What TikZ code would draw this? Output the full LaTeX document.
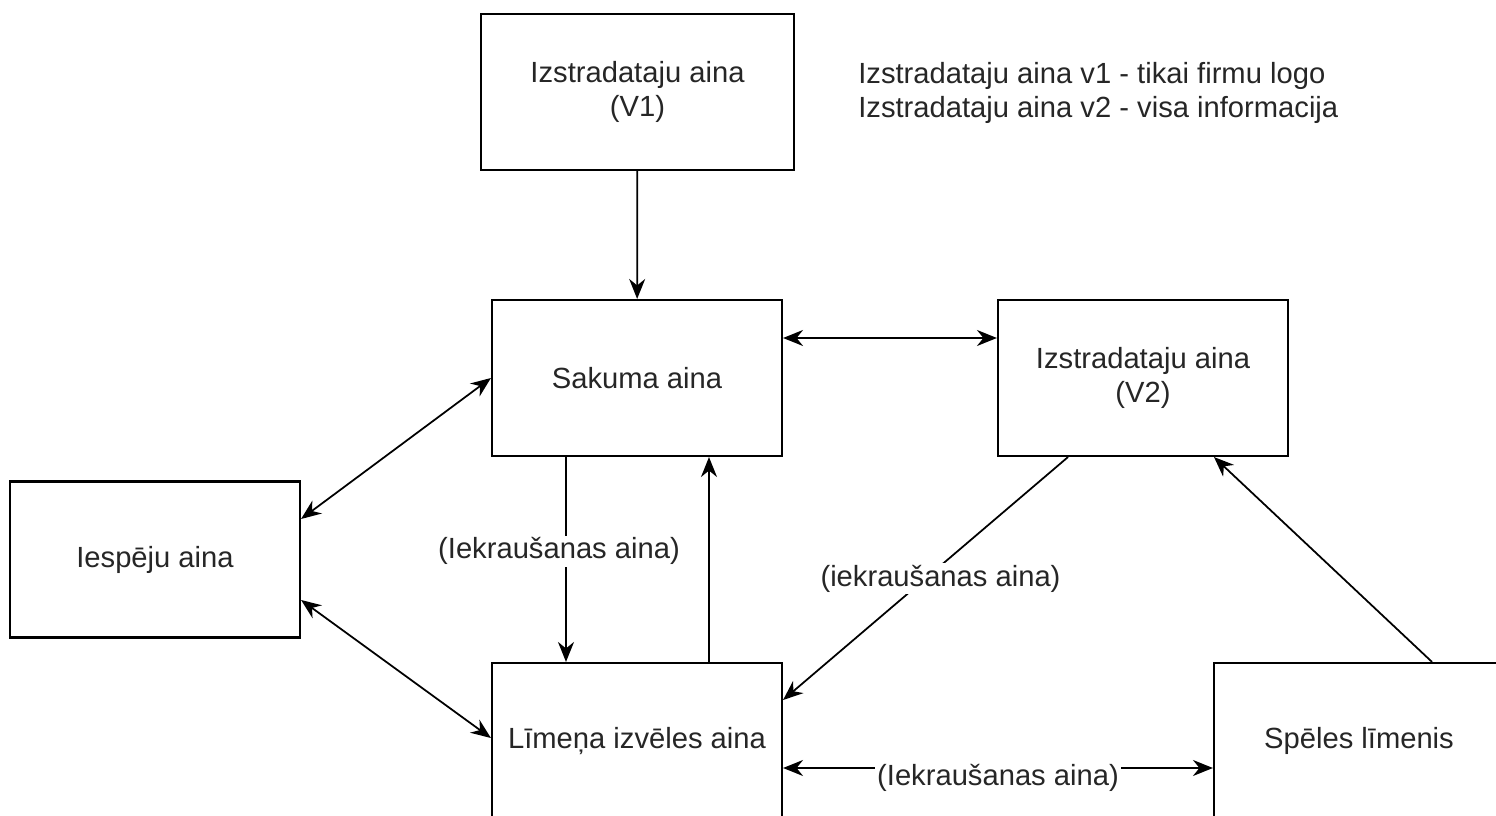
\documentclass[tikz,border=0pt]{standalone}
\usepackage{fontspec}
\setmainfont{Liberation Sans}
\usetikzlibrary{arrows.meta}

\begin{document}
\begin{tikzpicture}[
    scene/.style={rectangle, draw=black, line width=1.2pt, fill=white, text=black!85, minimum width=5.8cm, minimum height=3.12cm, align=center},
    loadlbl/.style={fill=white, text=black!85, inner sep=1pt},
    >={Stealth[length=0.4cm, width=0.32cm]},
    font=\fontsize{16.6}{19}\selectfont
]
    \useasboundingbox (0, 0) rectangle (29.92, 16.3);
    \clip (0, 0) rectangle (29.92, 16.3);

    \node[scene, minimum width=6.26cm] (dev1) at (12.75, 14.46) {Izstradataju aina\\(V1)};
    \node[scene] (start) at (12.74, 8.74) {Sakuma aina};
    \node[scene] (dev2) at (22.86, 8.74) {Izstradataju aina\\(V2)};
    \node[scene] (opts) at (3.1, 5.11) {Iespēju aina};
    \node[scene] (lvl) at (12.74, 1.48) {Līmeņa izvēles aina};
    \node[scene] (game) at (27.18, 1.48) {Spēles līmenis};

    \node[anchor=west, align=left, inner sep=0pt, text=black!85] (note) at (17.16, 14.44)
        {Izstradataju aina v1 - tikai firmu logo\\Izstradataju aina v2 - visa informacija};

    \begin{scope}[line width=1pt]
    \draw[->] (dev1) -- (start);
    \draw[<->] ([yshift=0.8cm]start.east) -- ([yshift=0.8cm]dev2.west);
    \draw[<->] (start.west) -- ([yshift=0.81cm]opts.east);
    \draw[<->] ([yshift=-0.81cm]opts.east) -- ([yshift=0.06cm]lvl.west);
    \draw[->] ([xshift=-1.42cm]start.south) -- node[loadlbl, pos=0.46, xshift=-0.14cm] {(Iekraušanas aina)} ([xshift=-1.42cm]lvl.north);
    \draw[->] ([xshift=1.44cm]lvl.north) -- ([xshift=1.44cm]start.south);
    \draw[->] ([xshift=-1.5cm]dev2.south) -- node[loadlbl, xshift=0.3cm] {(iekraušanas aina)} ([yshift=0.82cm]lvl.east);
    \draw[->] ([xshift=1.46cm]game.north) -- ([xshift=1.42cm]dev2.south);
    \draw[<->] ([yshift=-0.54cm]lvl.east) -- node[loadlbl, yshift=-0.2cm] {(Iekraušanas aina)} ([yshift=-0.54cm]game.west);
    \end{scope}
\end{tikzpicture}
\end{document}
